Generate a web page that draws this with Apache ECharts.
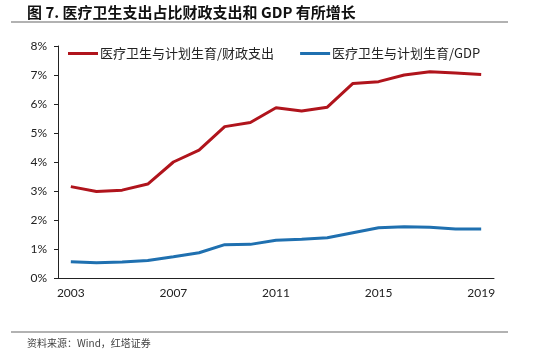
<!DOCTYPE html>
<html><head><meta charset="utf-8">
<script src="https://cdn.jsdelivr.net/npm/echarts@6/dist/echarts.min.js"></script>
<style>html,body{margin:0;padding:0;background:#fff}#c{width:550px;height:352px}</style>
</head><body><div id="c"></div>
<script>
const years = ['2003','2004','2005','2006','2007','2008','2009','2010','2011','2012','2013','2014','2015','2016','2017','2018','2019'];
const shareOfFiscal = [3.15,2.98,3.03,3.24,4.00,4.41,5.22,5.36,5.87,5.76,5.89,6.71,6.77,7.00,7.11,7.07,7.02];
const shareOfGDP = [0.56,0.53,0.55,0.60,0.73,0.87,1.15,1.16,1.30,1.34,1.39,1.56,1.73,1.77,1.75,1.69,1.69];
const seriesNames = ['医疗卫生与计划生育/财政支出','医疗卫生与计划生育/GDP'];
const titleText = '图 7. 医疗卫生支出占比财政支出和 GDP 有所增长';
const sourceText = '资料来源：Wind，红塔证券';

const chart = echarts.init(document.getElementById('c'), null, {renderer:'canvas'});
chart.setOption({
  animation:false,
  backgroundColor:'#fff',
  graphic:[
    {type:'text',x:27,y:12,style:{text:titleText,fontFamily:'Noto Sans CJK SC',fontSize:15,fontWeight:'bold',fill:'#111',align:'left',verticalAlign:'middle'}},
    {type:'line',shape:{x1:11,y1:22,x2:508,y2:22},style:{stroke:'#666',lineWidth:1.2}},
    {type:'line',shape:{x1:11,y1:332,x2:508,y2:332},style:{stroke:'#666',lineWidth:1.2}},
    {type:'text',x:27,y:343,style:{text:sourceText,fontFamily:'Noto Sans CJK SC',fontSize:10,fill:'#444',align:'left',verticalAlign:'middle'}}
  ],
  legend:{left:63,top:42,itemWidth:30,itemHeight:3,itemGap:26,icon:'rect',
    textStyle:{fontFamily:'Noto Sans CJK SC',fontSize:13,color:'#222',padding:[0,0,0,-3]},
    data:seriesNames},
  grid:{left:58,right:56,top:46,bottom:74,containLabel:false},
  xAxis:{type:'category',data:years,boundaryGap:true,
    axisLine:{lineStyle:{color:'#222',width:1}},
    axisTick:{interval:3,length:4,lineStyle:{color:'#222'}},
    axisLabel:{interval:3,margin:9,fontFamily:'Lato',fontSize:12,color:'#222'}},
  yAxis:{type:'value',min:0,max:8,interval:1,
    axisLine:{show:true,lineStyle:{color:'#222',width:1}},
    axisTick:{show:true,length:4,lineStyle:{color:'#222'}},
    splitLine:{show:false},
    axisLabel:{margin:11,fontFamily:'Lato',fontSize:12,color:'#222',formatter:v=>v+'%'}},
  series:[
    {name:seriesNames[0],type:'line',data:shareOfFiscal,symbol:'none',lineStyle:{color:'#B0141C',width:3},itemStyle:{color:'#B0141C'}},
    {name:seriesNames[1],type:'line',data:shareOfGDP,symbol:'none',lineStyle:{color:'#1F70B0',width:3},itemStyle:{color:'#1F70B0'}}
  ]
});
</script></body></html>
